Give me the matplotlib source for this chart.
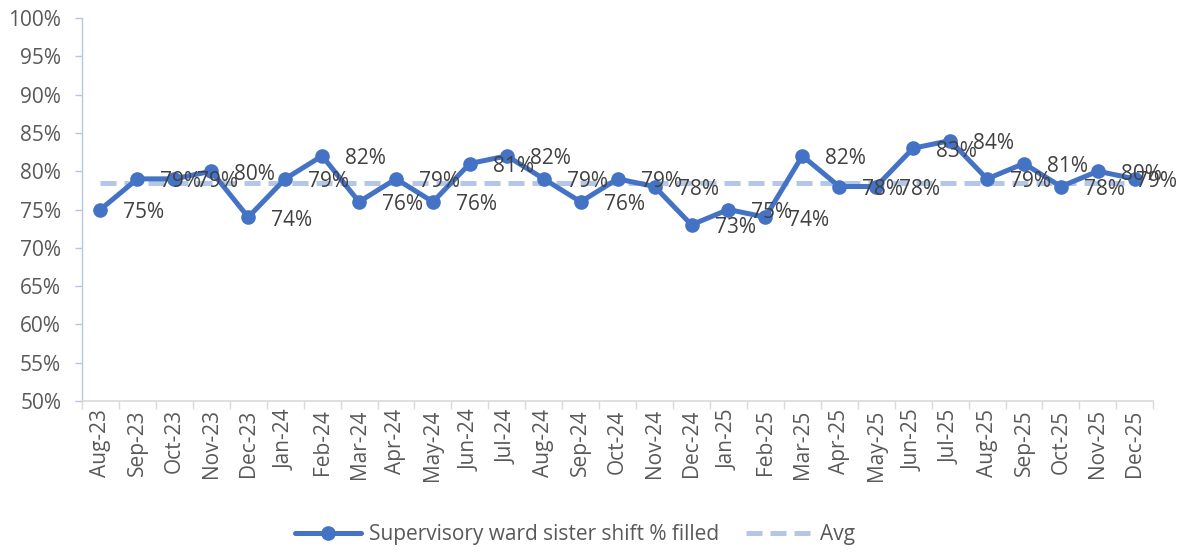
import matplotlib.pyplot as plt

# ---- data ----
months = [
    "Aug-23", "Sep-23", "Oct-23", "Nov-23", "Dec-23",
    "Jan-24", "Feb-24", "Mar-24", "Apr-24", "May-24", "Jun-24", "Jul-24",
    "Aug-24", "Sep-24", "Oct-24", "Nov-24", "Dec-24",
    "Jan-25", "Feb-25", "Mar-25", "Apr-25", "May-25", "Jun-25", "Jul-25",
    "Aug-25", "Sep-25", "Oct-25", "Nov-25", "Dec-25",
]
filled_pct = [
    75, 79, 79, 80, 74,
    79, 82, 76, 79, 76, 81, 82,
    79, 76, 79, 78, 73,
    75, 74, 82, 78, 78, 83, 84,
    79, 81, 78, 80, 79,
]
avg_pct = 78.5
y_ticks = [50, 55, 60, 65, 70, 75, 80, 85, 90, 95, 100]

series_label = "Supervisory ward sister shift % filled"
avg_label = "Avg"

# ---- style ----
LINE_COLOR = "#4472C4"
AVG_COLOR = "#B4C7E7"
TEXT_COLOR = "#595959"
FONT = "Open Sans"
FS = 15

plt.rcParams["font.family"] = [FONT, "DejaVu Sans"]

fig = plt.figure(figsize=(11.78, 5.57), dpi=100)
ax = fig.add_axes([0.0696, 0.280, 0.9094, 0.6877])

x = list(range(len(months)))

ax.plot(x, filled_pct, color=LINE_COLOR, lw=3.6, marker="o", ms=9.5,
        solid_capstyle="round", zorder=3, label=series_label)
ax.plot([x[0], x[-1]], [avg_pct, avg_pct], color=AVG_COLOR, lw=3.6,
        dashes=(3.2, 1.6), zorder=2, label=avg_label)

# data labels to the right of each point (last one pulled in, as Excel does)
for xi, v in zip(x, filled_pct):
    dx = 23 if xi < len(x) - 1 else 1
    ax.annotate(f"{v}%", (xi, v), xytext=(dx, -3), textcoords="offset pixels",
                ha="left", va="center", fontsize=FS, color="#404040", zorder=4)

# axes
ax.set_xlim(-0.5, len(months) - 0.5)
ax.set_ylim(50, 100)
ax.set_yticks(y_ticks)
ax.set_yticklabels([f"{t}%" for t in y_ticks])
ax.set_xticks(x)
ax.set_xticklabels(months, rotation=90)
ax.set_xticks([i - 0.5 for i in range(len(months) + 1)], minor=True)

ax.tick_params(axis="x", which="major", length=0, labelsize=FS,
               labelcolor=TEXT_COLOR, pad=6)
ax.tick_params(axis="x", which="minor", length=6, color="#D9D9D9", width=1)
ax.tick_params(axis="y", length=5, color="#B4C7E7", width=1,
               labelsize=FS, labelcolor=TEXT_COLOR, pad=10)

for s in ("top", "right"):
    ax.spines[s].set_visible(False)
ax.spines["left"].set_color("#B4C7E7")
ax.spines["bottom"].set_color("#D9D9D9")
ax.spines["left"].set_linewidth(1)
ax.spines["bottom"].set_linewidth(1.2)

leg = fig.legend(loc="lower center", bbox_to_anchor=(0.488, -0.012), ncol=2,
                 frameon=False, fontsize=FS, handlelength=3.2,
                 handletextpad=0.35, columnspacing=1.3, labelcolor=TEXT_COLOR)

fig.savefig("out.png", dpi=100)
